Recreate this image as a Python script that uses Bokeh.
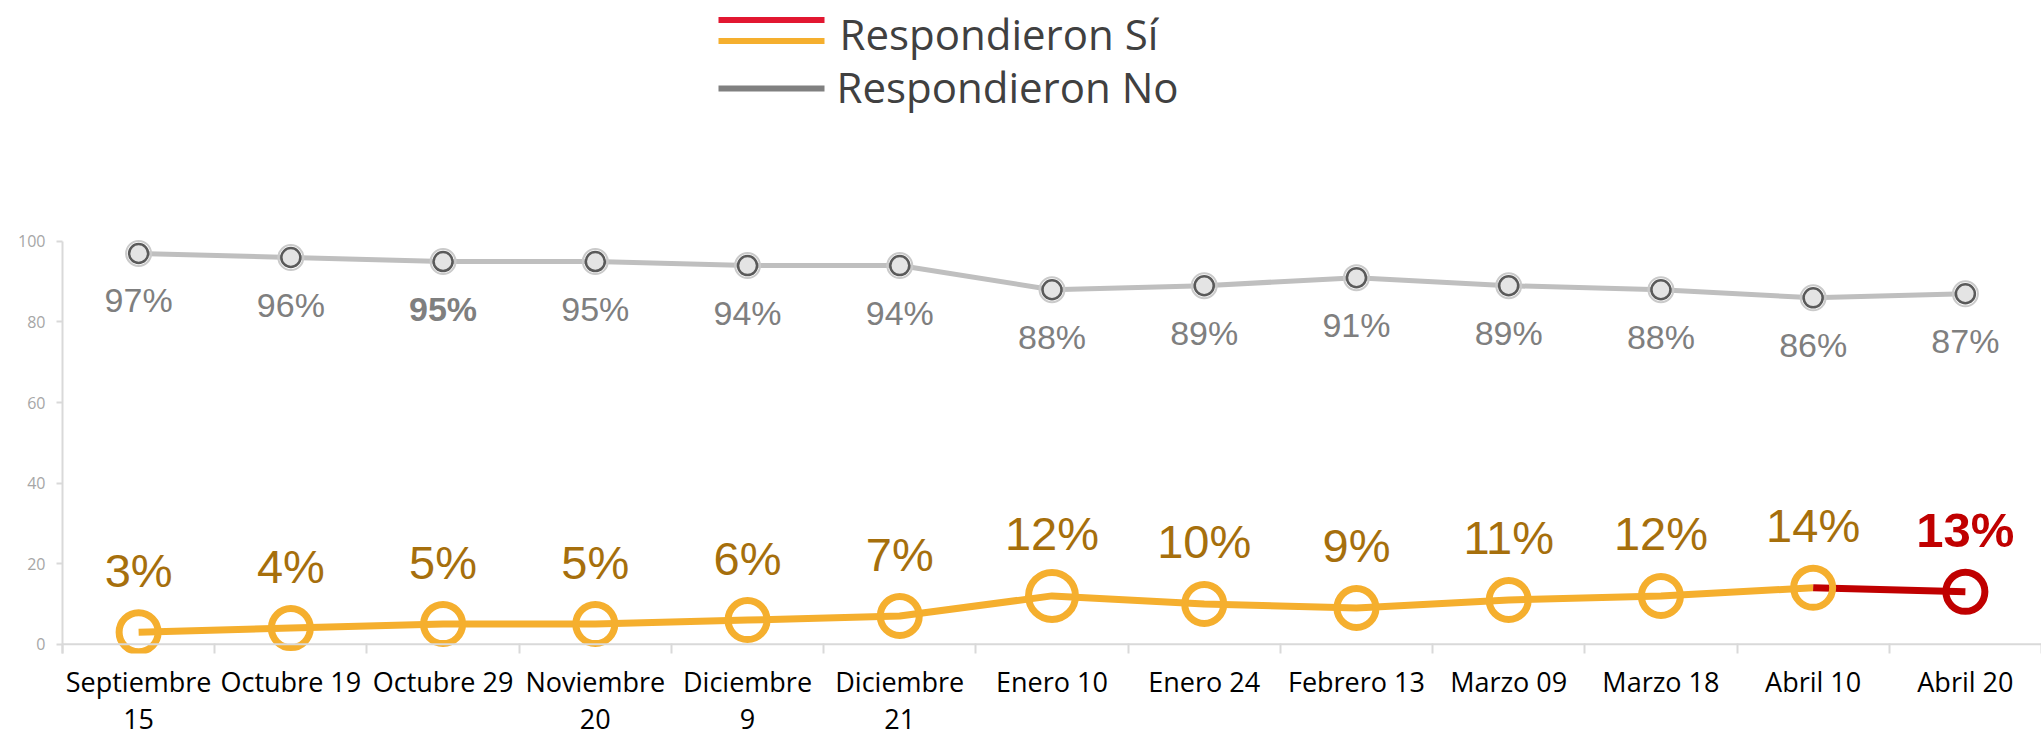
from bokeh.plotting import figure
from bokeh.models import ColumnDataSource, FixedTicker, Span
from bokeh.core.properties import value
from bokeh.embed import file_html
from bokeh.resources import INLINE

# ---------------- data ----------------
categories = ["Septiembre\n15", "Octubre 19", "Octubre 29", "Noviembre\n20",
              "Diciembre\n9", "Diciembre\n21", "Enero 10", "Enero 24",
              "Febrero 13", "Marzo 09", "Marzo 18", "Abril 10", "Abril 20"]
si_values = [3, 4, 5, 5, 6, 7, 12, 10, 9, 11, 12, 14, 13]
no_values = [97, 96, 95, 95, 94, 94, 88, 89, 91, 89, 88, 86, 87]
y_ticks = [0, 20, 40, 60, 80, 100]
legend_si = "Respondieron Sí"
legend_no = "Respondieron No"

# ---------------- style ----------------
ORANGE = "#F5AF2E"
ORANGE_TXT = "#A66F0C"
RED = "#C00000"
LEG_RED = "#E21731"
GRAY_LINE = "#BFBFBF"
GRAY_TXT = "#7F7F7F"
AXIS = "#D9D9D9"
UI_FONT = value("Open Sans")
NUM_FONT = value("Liberation Sans")

W, H = 2041, 739
BL, BB = 62, 84
X0, X1 = -0.5, 12.5
Y0, Y1 = -2.3, 159.8
FW, FH = W - BL, H - BB


def dx(page_x):
    return X0 + (page_x - BL) / FW * (X1 - X0)


def dy(page_y):
    return Y1 - page_y / FH * (Y1 - Y0)


n = len(categories)
xs = list(range(n))
hi = n - 1  # highlighted last point

p = figure(width=W, height=H, x_range=(X0, X1), y_range=(Y0, Y1),
           output_backend="svg", toolbar_location=None,
           min_border_left=BL, min_border_right=0, min_border_top=0,
           min_border_bottom=BB)
p.outline_line_color = None
p.grid.visible = False

# y axis
ya = p.yaxis[0]
ya.ticker = FixedTicker(ticks=y_ticks)
ya.bounds = (Y0, 100)
ya.axis_line_color = AXIS
ya.axis_line_width = 2
ya.major_tick_line_color = AXIS
ya.major_tick_line_width = 2
ya.major_tick_out = 6
ya.major_tick_in = 0
ya.minor_tick_line_color = None
ya.major_label_text_color = "#A6A6A6"
ya.major_label_text_font = "Open Sans"
ya.major_label_text_font_size = "16px"
ya.major_label_standoff = 11

# x axis
xa = p.xaxis[0]
xa.ticker = FixedTicker(ticks=xs, minor_ticks=[i - 0.5 for i in range(n + 1)])
xa.major_label_overrides = {i: c for i, c in enumerate(categories)}
xa.axis_line_color = None
xa.major_tick_line_color = None
xa.major_tick_out = 0
xa.major_tick_in = 0
xa.minor_tick_line_color = AXIS
xa.minor_tick_line_width = 2
xa.minor_tick_in = 10
xa.minor_tick_out = 0
xa.major_label_text_font = "Open Sans"
xa.major_label_text_font_size = "27px"
xa.major_label_text_color = "#000000"
xa.major_label_text_line_height = 1.0
xa.major_label_standoff = 9

p.add_layout(Span(location=0, dimension="width", line_color=AXIS, line_width=2))

# ---------------- No series ----------------
no_src = ColumnDataSource(dict(
    x=xs, y=no_values, lbl=[f"{v}%" for v in no_values],
    style=["bold" if i == 2 else "normal" for i in xs],
))
p.line("x", "y", source=no_src, line_color=GRAY_LINE, line_width=5)
p.scatter("x", "y", source=no_src, size=25, fill_color=None,
          line_color="#CACACA", line_width=2)
p.scatter("x", "y", source=no_src, size=19, fill_color="#E4E4E4",
          line_color="#5A5A5A", line_width=2.5)
p.text("x", "y", text="lbl", source=no_src, text_font=NUM_FONT,
       text_font_size="34px", text_color=GRAY_TXT, text_align="center",
       text_baseline="alphabetic", y_offset=47, text_font_style="style")

# ---------------- Sí series ----------------
si_src = ColumnDataSource(dict(
    x=xs, y=si_values, lbl=[f"{v}%" for v in si_values],
    size=[47 if i == 6 else 39 for i in xs],
    col=[RED if i == hi else ORANGE for i in xs],
    tcol=[RED if i == hi else ORANGE_TXT for i in xs],
    style=["bold" if i == hi else "normal" for i in xs],
    fsize=["49px" if i == hi else "47px" for i in xs],
))
p.line(xs[:hi], si_values[:hi], line_color=ORANGE, line_width=7,
       line_join="round")
p.line(xs[hi - 1:], si_values[hi - 1:], line_color=RED, line_width=7,
       line_join="round")
p.scatter("x", "y", source=si_src, size="size", fill_color=None,
          line_color="col", line_width=7)
p.text("x", "y", text="lbl", source=si_src, text_font=NUM_FONT,
       text_font_size="fsize", text_color="tcol", text_align="center",
       text_baseline="alphabetic", y_offset=-62, text_font_style="style")

# ---------------- legend (drawn above the plot) ----------------
lx0, lx1 = dx(718), dx(824)
ly = [dy(19.5), dy(40.7), dy(88.3)]
p.segment(x0=[lx0] * 3, x1=[lx1] * 3, y0=ly, y1=ly,
          line_color=[LEG_RED, ORANGE, "#808080"], line_width=6)
p.text(x=[dx(839), dx(836)], y=[dy(33), dy(86)],
       text=[legend_si, legend_no], text_font=UI_FONT, text_font_size="42px",
       text_color="#404040", text_align="left", text_baseline="alphabetic")

open("out.html", "w").write(file_html(p, INLINE))
